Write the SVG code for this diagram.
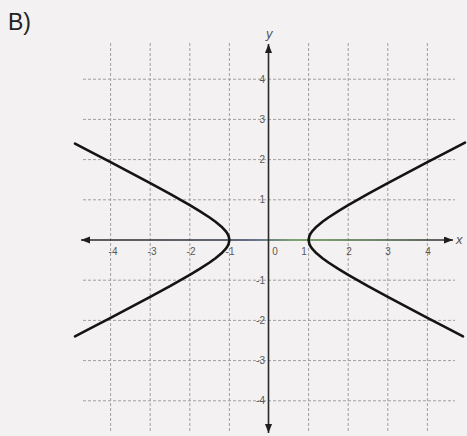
<svg xmlns="http://www.w3.org/2000/svg" width="467" height="436" viewBox="0 0 467 436">
  <style>
    .grid { stroke: #a09e9e; stroke-width: 1; stroke-dasharray: 3 2; fill: none; }
    .axis { stroke-width: 1.6; fill: none; }
    .curve { stroke: #141414; stroke-width: 2.6; fill: none; stroke-linejoin: round; stroke-linecap: round; }
    .tick { font-family: "Liberation Sans", Arial, sans-serif; font-size: 10px; fill: #5a5858; }
    .var { font-family: "Liberation Sans", Arial, sans-serif; font-size: 13px; font-style: italic; fill: #555; }
    .title { font-family: "Liberation Sans", Arial, sans-serif; font-size: 23px; fill: #222; }
  </style>
  <defs>
    <marker id="arrow" markerUnits="userSpaceOnUse" markerWidth="10" markerHeight="8" refX="9" refY="3.5" orient="auto-start-reverse">
      <path d="M0,0 L9,3.5 L0,7 z" fill="#1e1e1e"/>
    </marker>
    <linearGradient id="xaxisGrad" gradientUnits="userSpaceOnUse" x1="81" y1="0" x2="453" y2="0">
      <stop offset="0" stop-color="#2a2a2a"/>
      <stop offset="0.38" stop-color="#2e3440"/>
      <stop offset="0.46" stop-color="#34456a"/>
      <stop offset="0.58" stop-color="#5a8a48"/>
      <stop offset="0.8" stop-color="#44603f"/>
      <stop offset="1" stop-color="#2a2a2a"/>
    </linearGradient>
  </defs>

  <rect id="page" x="0" y="0" width="467" height="436" fill="#f3f1f1"/>

  <text id="label-B" class="title" x="8" y="30">B)</text>

  <g id="grid">
    <line class="grid" x1="110.6" y1="43" x2="110.6" y2="432"/>
    <line class="grid" x1="150.2" y1="43" x2="150.2" y2="432"/>
    <line class="grid" x1="189.8" y1="43" x2="189.8" y2="432"/>
    <line class="grid" x1="229.4" y1="43" x2="229.4" y2="432"/>
    <line class="grid" x1="308.6" y1="43" x2="308.6" y2="432"/>
    <line class="grid" x1="348.2" y1="43" x2="348.2" y2="432"/>
    <line class="grid" x1="387.8" y1="43" x2="387.8" y2="432"/>
    <line class="grid" x1="427.4" y1="43" x2="427.4" y2="432"/>
    <line class="grid" x1="83" y1="79.2" x2="455" y2="79.2"/>
    <line class="grid" x1="83" y1="119.4" x2="455" y2="119.4"/>
    <line class="grid" x1="83" y1="159.6" x2="455" y2="159.6"/>
    <line class="grid" x1="83" y1="199.8" x2="455" y2="199.8"/>
    <line class="grid" x1="83" y1="280.2" x2="455" y2="280.2"/>
    <line class="grid" x1="83" y1="320.4" x2="455" y2="320.4"/>
    <line class="grid" x1="83" y1="360.6" x2="455" y2="360.6"/>
    <line class="grid" x1="83" y1="400.8" x2="455" y2="400.8"/>
  </g>

  <g id="axes">
    <line id="x-axis" class="axis" stroke="url(#xaxisGrad)" x1="81" y1="240" x2="453" y2="240" marker-start="url(#arrow)" marker-end="url(#arrow)"/>
    <line id="y-axis" class="axis" stroke="#2a2a2a" x1="268.5" y1="44" x2="268.5" y2="433" marker-start="url(#arrow)" marker-end="url(#arrow)"/>
    <text class="var" x="266" y="38">y</text>
    <text class="var" x="456" y="244">x</text>
  </g>

  <g id="x-ticks" class="tick" text-anchor="middle">
    <text x="113" y="255">-4</text>
    <text x="152" y="255">-3</text>
    <text x="191" y="255">-2</text>
    <text x="230" y="255">-1</text>
    <text x="275" y="255">0</text>
    <text x="304" y="255">1</text>
    <text x="349" y="255">2</text>
    <text x="388" y="255">3</text>
    <text x="428" y="255">4</text>
  </g>

  <g id="y-ticks" class="tick" text-anchor="end">
    <text x="265" y="83">4</text>
    <text x="265" y="123">3</text>
    <text x="265" y="163">2</text>
    <text x="265" y="203">1</text>
    <text x="265" y="284">-1</text>
    <text x="265" y="324">-2</text>
    <text x="265" y="364">-3</text>
    <text x="265" y="404">-4</text>
  </g>

  <g id="hyperbola">
    <path id="branch-right" class="curve" d="M465.0,142.6 L447.2,151.8 L427.4,162.2 L407.6,172.6 L387.8,183.2 L368.0,193.9 L348.2,205.2 L338.3,211.1 L328.4,217.5 L322.5,221.8 L316.5,226.7 L312.6,230.8 L310.6,233.6 L309.4,236.0 L308.6,240 L309.4,244.0 L310.6,246.4 L312.6,249.2 L316.5,253.3 L322.5,258.2 L328.4,262.5 L338.3,268.9 L348.2,274.8 L368.0,286.1 L387.8,296.8 L407.6,307.4 L427.4,317.8 L447.2,328.2 L463.0,336.4"/>
    <path id="branch-left" class="curve" d="M75.0,143.6 L90.8,151.8 L110.6,162.2 L130.4,172.6 L150.2,183.2 L170.0,193.9 L189.8,205.2 L199.7,211.1 L209.6,217.5 L215.5,221.8 L221.5,226.7 L225.4,230.8 L227.4,233.6 L228.6,236.0 L229.4,240 L228.6,244.0 L227.4,246.4 L225.4,249.2 L221.5,253.3 L215.5,258.2 L209.6,262.5 L199.7,268.9 L189.8,274.8 L170.0,286.1 L150.2,296.8 L130.4,307.4 L110.6,317.8 L90.8,328.2 L75.0,336.4"/>
  </g>
</svg>
